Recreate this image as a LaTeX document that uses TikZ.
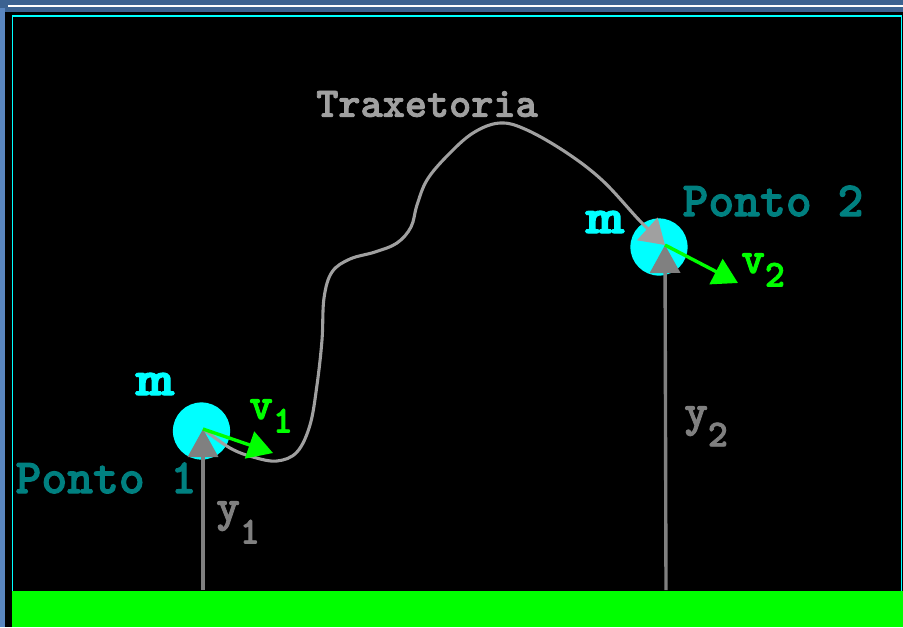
\documentclass[tikz,border=0pt]{standalone}
\usepackage{fontspec}
\newfontfamily\courb{lmmonolt10-bold.otf}[FakeBold=2]
\usetikzlibrary{arrows.meta}
\definecolor{frameblue}{HTML}{3C6291}
\definecolor{framelight}{HTML}{5A86C0}
\definecolor{ballcyan}{HTML}{00FFFF}
\definecolor{pontoteal}{HTML}{008080}
\definecolor{velgreen}{HTML}{00FF00}
\definecolor{traygray}{HTML}{A0A0A0}
\definecolor{axisgray}{HTML}{808080}
\newcommand\sublab[3]{#1\raisebox{-#3em}{\fontsize{27}{27}\selectfont #2}}

\begin{document}
\begin{tikzpicture}[x=0.025cm,y=-0.025cm,
  ball/.style={circle,fill=ballcyan,minimum size=1.43cm,inner sep=0pt},
  mass/.style={text=ballcyan,inner sep=0pt,font=\courb\fontsize{36}{36}\selectfont},
  ponto/.style={text=pontoteal,inner sep=0pt,font=\courb\fontsize{35}{35}\selectfont},
  traylab/.style={text=traygray,inner sep=0pt,font=\courb\fontsize{30}{30}\selectfont},
  vlab/.style={text=velgreen,inner sep=0pt,anchor=base west,font=\courb\fontsize{32}{32}\selectfont},
  ylab/.style={text=axisgray,inner sep=0pt,anchor=base west,font=\courb\fontsize{32}{32}\selectfont},
  yvec/.style={draw=axisgray,line width=2.4pt,-{Triangle[length=0.7cm,width=0.75cm]}},
  vel/.style={draw=velgreen,line width=2.4pt,-{Triangle[length=0.62cm,width=0.7cm]}},
  traj/.style={draw=traygray,line width=2.2pt,-{Triangle[length=0.6cm,width=0.75cm]}}]
\useasboundingbox (0,0) rectangle (903,627);
\fill[black] (0,0) rectangle (903,627);
\fill[frameblue] (0,0) rectangle (903,12);
\fill[white] (8,5) rectangle (903,7);
\fill[framelight] (0,8) rectangle (5,627);
\draw[ballcyan,line width=1.2pt] (12.5,627) -- (12.5,16) -- (901.5,16) -- (901.5,627);
\fill[velgreen] (12,591) rectangle (903,627);

\node[ball] (b1) at (201.5,431) {};
\node[ball] (b2) at (659,247) {};
\coordinate (o1) at (203,429);
\coordinate (o2) at (665,245);
\coordinate (g1) at (203,590);
\coordinate (g2) at (666,590);
\coordinate (v1) at (273,453);
\coordinate (v2) at (738,283);

\draw[traj] plot[smooth,tension=0.6] coordinates {(o1) (230,448) (253,457) (277,461)
  (297,452) (310,425) (317,385) (322,340) (324,298) (332,272) (350,259) (375,252)
  (397,243) (411,227) (417,205) (427,180) (447,156) (473,133) (500,123) (527,130)
  (567,153) (603,181) (640,221) (o2)};
\draw[yvec] (g1) -- (o1);
\draw[yvec] (g2) -- (o2);
\draw[vel] (o1) -- (v1);
\draw[vel] (o2) -- (v2);

\node[mass] (m1) at (155,384) {\scalebox{1.45}[1]{m}};
\node[mass] (m2) at (605,222) {\scalebox{1.45}[1]{m}};
\node[ponto] (p1) at (106,478) {Ponto 1};
\node[ponto] (p2) at (773,201) {Ponto 2};
\node[traylab] (tr) at (427,104) {Traxetoria};
\node[vlab] (lv1) at (249,419) {\sublab{v}{1}{0.3}};
\node[vlab] (lv2) at (741,273) {\sublab{v}{2}{0.3}};
\node[ylab] (ly1) at (216,521) {\sublab{y}{1}{0.5}};
\node[ylab] (ly2) at (684,426) {\sublab{y}{2}{0.45}};
\end{tikzpicture}
\end{document}
